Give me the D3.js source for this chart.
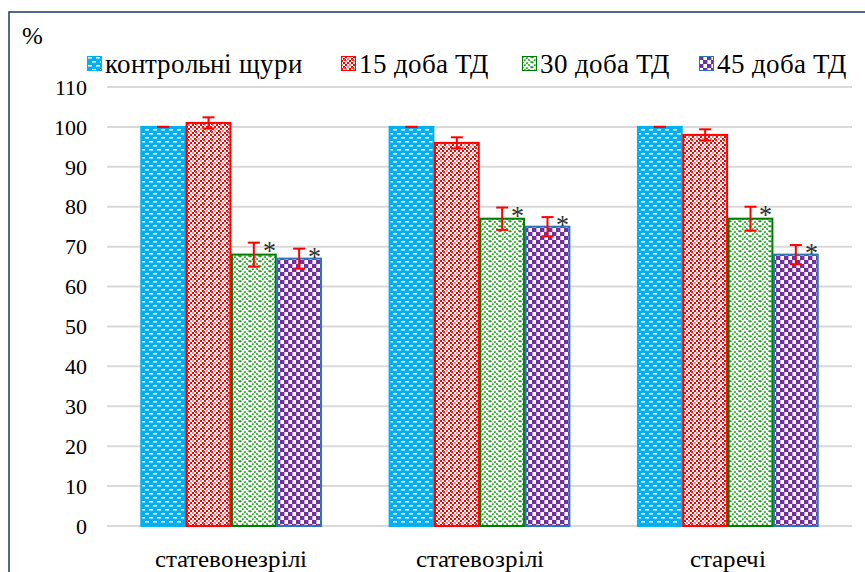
<!DOCTYPE html>
<html>
<head>
<meta charset="UTF-8">
<script src="https://d3js.org/d3.v7.min.js"></script>
<style>
  @font-face { font-family: "ChartSerif"; src: local("Liberation Serif"), local("LiberationSerif"), local("Times New Roman"), local("Tinos"); }
  body { margin: 0; font-family: "ChartSerif", "Liberation Serif", "Times New Roman", Tinos, serif; }
  svg text { font-family: "ChartSerif", "Liberation Serif", "Times New Roman", Tinos, serif !important; }
</style>
</head>
<body>
<svg id="chart" width="865" height="572"></svg>
<script>
// data
var groups = ["статевонезрілі", "статевозрілі", "старечі"];
var seriesNames = ["контрольні щури", "15 доба ТД", "30 доба ТД", "45 доба ТД"];
var control = [100, 100, 100];
var day15 = [101, 96, 98];
var day30 = [68, 77, 77];
var day45 = [67, 75, 68];
var errControl = [0, 0, 0];
var err15 = [1.4, 1.4, 1.4];
var err30 = [3, 2.8, 3];
var err45 = [2.5, 2.4, 2.4];
var starred = [false, false, true, true];
var yTicks = [0, 10, 20, 30, 40, 50, 60, 70, 80, 90, 100, 110];

var series = [control, day15, day30, day45];
var errors = [errControl, err15, err30, err45];
var FONT = "Liberation Serif";

var svg = d3.select("#chart");
var defs = svg.append("defs");

// fill patterns, roughly like the Excel ones
var p0 = defs.append("pattern").attr("id", "pat0").attr("patternUnits", "userSpaceOnUse")
    .attr("width", 8).attr("height", 8);
p0.append("rect").attr("width", 8).attr("height", 8).attr("fill", "#00b0f0");
p0.append("rect").attr("x", 1).attr("y", 1).attr("width", 4).attr("height", 1.6).attr("fill", "#fff");
p0.append("rect").attr("x", 5).attr("y", 5).attr("width", 4).attr("height", 1.6).attr("fill", "#fff");
p0.append("rect").attr("x", -3).attr("y", 5).attr("width", 4).attr("height", 1.6).attr("fill", "#fff");

var p1 = defs.append("pattern").attr("id", "pat1").attr("patternUnits", "userSpaceOnUse")
    .attr("width", 8).attr("height", 8);
p1.append("rect").attr("width", 8).attr("height", 8).attr("fill", "#fff");
[[0, 0], [2, 2], [4, 0], [6, 2], [0, 4], [2, 6], [4, 4], [6, 6]].forEach(function (c, i) {
    p1.append("rect").attr("x", c[0]).attr("y", c[1]).attr("width", 2).attr("height", 2)
        .attr("fill", i % 3 == 0 ? "#ff8080" : "#ff0000");
});
p1.append("rect").attr("x", 3).attr("y", 3).attr("width", 2).attr("height", 2).attr("fill", "#ff3030");

var p2 = defs.append("pattern").attr("id", "pat2").attr("patternUnits", "userSpaceOnUse")
    .attr("width", 10).attr("height", 10);
p2.append("rect").attr("width", 10).attr("height", 10).attr("fill", "#fff");
p2.append("path").attr("d", "M0,7 L5,2 L10,7 M0,12 L5,7 L10,12 M0,2 L5,-3 L10,2")
    .attr("fill", "none").attr("stroke", "#1a9c1a").attr("stroke-width", 1.6)
    .attr("stroke-dasharray", "2,1");

var p3 = defs.append("pattern").attr("id", "pat3").attr("patternUnits", "userSpaceOnUse")
    .attr("width", 8).attr("height", 8);
p3.append("rect").attr("width", 8).attr("height", 8).attr("fill", "#fff");
p3.append("rect").attr("x", 0).attr("y", 0).attr("width", 4).attr("height", 4).attr("fill", "#7030a0");
p3.append("rect").attr("x", 4).attr("y", 4).attr("width", 4).attr("height", 4).attr("fill", "#7030a0");
p3.append("rect").attr("x", 4).attr("y", 0).attr("width", 1).attr("height", 4).attr("fill", "#c6a8dc");
p3.append("rect").attr("x", 0).attr("y", 4).attr("width", 1).attr("height", 4).attr("fill", "#c6a8dc");

var fills = ["url(#pat0)", "url(#pat1)", "url(#pat2)", "url(#pat3)"];
var strokes = ["#00b0f0", "#ff0000", "#007a00", "#2e75b6"];

// frame
svg.append("rect").attr("x", 9).attr("y", 12).attr("width", 870).attr("height", 580)
    .attr("fill", "none").attr("stroke", "#1f3864").attr("stroke-width", 1.5);

var x0 = d3.scaleBand().domain(groups).range([107, 852]).paddingInner(0.27).paddingOuter(0.135);
var x1 = d3.scaleBand().domain(d3.range(4)).range([0, x0.bandwidth()]);
var y = d3.scaleLinear().domain([0, 110]).range([526, 87]);

// grid
svg.append("g").selectAll("line").data(yTicks).enter().append("line")
    .attr("x1", 107).attr("x2", 852)
    .attr("y1", function (d) { return y(d); }).attr("y2", function (d) { return y(d); })
    .attr("stroke", "#d9d9d9").attr("stroke-width", 2);

// y axis labels
svg.append("g").selectAll("text").data(yTicks).enter().append("text")
    .attr("font-family", FONT)
    .attr("x", 87).attr("y", function (d) { return y(d); })
    .attr("dy", "0.35em").attr("text-anchor", "end").attr("font-size", 22)
    .text(function (d) { return d; });

svg.append("text").attr("font-family", FONT)
    .attr("x", 22).attr("y", 44).attr("font-size", 25).text("%");

// bars
var flat = [];
groups.forEach(function (g, gi) {
    series.forEach(function (s, si) {
        flat.push({ g: g, si: si, v: s[gi], e: errors[si][gi] });
    });
});

svg.append("g").selectAll("rect").data(flat).enter().append("rect")
    .attr("x", function (d) { return x0(d.g) + x1(d.si) + 0.75; })
    .attr("y", function (d) { return y(d.v); })
    .attr("width", x1.bandwidth() - 1.5)
    .attr("height", function (d) { return y(0) - y(d.v); })
    .attr("fill", function (d) { return fills[d.si]; })
    .attr("stroke", function (d) { return strokes[d.si]; })
    .attr("stroke-width", 2);

// error bars
var eb = svg.append("g").selectAll("g").data(flat).enter().append("g")
    .attr("stroke", "#ff0000").attr("stroke-width", 2);
function cx(d) { return x0(d.g) + x1(d.si) + x1.bandwidth() / 2; }
eb.append("line")
    .attr("x1", cx).attr("x2", cx)
    .attr("y1", function (d) { return y(d.v + d.e); })
    .attr("y2", function (d) { return y(d.v - d.e); });
eb.append("line")
    .attr("x1", function (d) { return cx(d) - 6; }).attr("x2", function (d) { return cx(d) + 6; })
    .attr("y1", function (d) { return y(d.v + d.e); }).attr("y2", function (d) { return y(d.v + d.e); });
eb.append("line")
    .attr("x1", function (d) { return cx(d) - 6; }).attr("x2", function (d) { return cx(d) + 6; })
    .attr("y1", function (d) { return y(d.v - d.e); }).attr("y2", function (d) { return y(d.v - d.e); });

// asterisks
svg.append("g").selectAll("text").data(flat.filter(function (d) { return starred[d.si]; }))
    .enter().append("text")
    .attr("font-family", FONT)
    .attr("x", function (d) { return cx(d) + 9; })
    .attr("y", function (d) { return y(d.v + d.e) + 16; })
    .attr("font-size", 26).attr("fill", "#333")
    .text("*");

// category labels
svg.append("g").selectAll("text").data(groups).enter().append("text")
    .attr("font-family", FONT)
    .attr("x", function (d) { return x0(d) + x0.bandwidth() / 2; })
    .attr("y", 567).attr("text-anchor", "middle").attr("font-size", 25)
    .text(function (d) { return d; });

// legend
var legX = [87, 341, 522, 699];
var leg = svg.append("g").selectAll("g").data(seriesNames).enter().append("g")
    .attr("transform", function (d, i) { return "translate(" + legX[i] + ",56)"; });
leg.append("rect").attr("x", 0.5).attr("y", 0.5).attr("width", 14).attr("height", 14)
    .attr("fill", function (d, i) { return fills[i]; })
    .attr("stroke", function (d, i) { return strokes[i]; });
leg.append("text").attr("font-family", FONT)
    .attr("x", 18).attr("y", 17).attr("font-size", 27)
    .text(function (d) { return d; });
</script>
</body>
</html>
